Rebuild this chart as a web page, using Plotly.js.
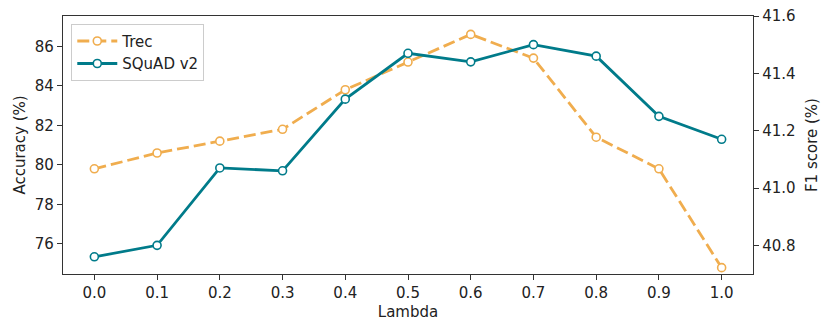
<!DOCTYPE html>
<html>
<head>
<meta charset="utf-8">
<script src="https://cdn.plot.ly/plotly-3.0.1.min.js"></script>
<style>html,body{margin:0;padding:0;background:#fff;}#chart{width:831px;height:332px;}</style>
</head>
<body>
<div id="chart"></div>
<script>
const lambdas = [0.0, 0.1, 0.2, 0.3, 0.4, 0.5, 0.6, 0.7, 0.8, 0.9, 1.0];
const trecAccuracy = [79.8, 80.6, 81.2, 81.8, 83.8, 85.2, 86.6, 85.4, 81.4, 79.8, 74.8];
const squadF1 = [40.76, 40.80, 41.07, 41.06, 41.31, 41.47, 41.44, 41.50, 41.46, 41.25, 41.17];
const seriesNames = ["Trec", "SQuAD v2"];

const orange = "#f0ad4e";
const teal = "#007b8a";
const axisColor = "#333333";
const fontFam = "DejaVu Sans, sans-serif";
const fs = 15;

const traces = [
  {
    x: lambdas, y: trecAccuracy, name: seriesNames[0], yaxis: "y",
    type: "scatter", mode: "lines+markers",
    line: {color: orange, width: 2.8, dash: "12px,5px"},
    marker: {symbol: "circle", size: 8, color: "#ffffff", line: {color: orange, width: 1.6}}
  },
  {
    x: lambdas, y: squadF1, name: seriesNames[1], yaxis: "y2",
    type: "scatter", mode: "lines+markers",
    line: {color: teal, width: 2.8},
    marker: {symbol: "circle", size: 8, color: "#ffffff", line: {color: teal, width: 1.6}}
  }
];

const layout = {
  width: 831, height: 332,
  margin: {l: 63, r: 78, t: 16, b: 58},
  paper_bgcolor: "#ffffff", plot_bgcolor: "#ffffff",
  font: {family: fontFam, size: fs, color: "#222222"},
  showlegend: true,
  legend: {
    x: 0.012, y: 0.97, xanchor: "left", yanchor: "top",
    bgcolor: "rgba(255,255,255,0.9)", bordercolor: "#cccccc", borderwidth: 1,
    font: {family: fontFam, size: fs, color: "#222222"},
    itemwidth: 40, tracegroupgap: 2
  },
  xaxis: {
    range: [-0.05, 1.05], tickvals: lambdas, tickformat: ".1f",
    showgrid: false, zeroline: false,
    showline: true, mirror: true, linecolor: axisColor, linewidth: 1.2,
    ticks: "outside", ticklen: 5, tickwidth: 1, tickcolor: axisColor,
    title: {text: "Lambda", font: {family: fontFam, size: fs}, standoff: 5}
  },
  yaxis: {
    range: [74.48, 87.53], tickvals: [76, 78, 80, 82, 84, 86],
    showgrid: false, zeroline: false,
    showline: true, linecolor: axisColor, linewidth: 1.2,
    ticks: "outside", ticklen: 5, tickwidth: 1, tickcolor: axisColor,
    title: {text: "Accuracy (%)", font: {family: fontFam, size: fs}, standoff: 5}
  },
  yaxis2: {
    overlaying: "y", side: "right",
    range: [40.70, 41.60], tickvals: [40.8, 41.0, 41.2, 41.4, 41.6], tickformat: ".1f",
    showgrid: false, zeroline: false,
    showline: true, linecolor: axisColor, linewidth: 1.2,
    ticks: "outside", ticklen: 5, tickwidth: 1, tickcolor: axisColor,
    title: {text: "F1 score (%)", font: {family: fontFam, size: fs}, standoff: 11}
  }
};

Plotly.newPlot("chart", traces, layout, {displayModeBar: false, staticPlot: true});
</script>
</body>
</html>
